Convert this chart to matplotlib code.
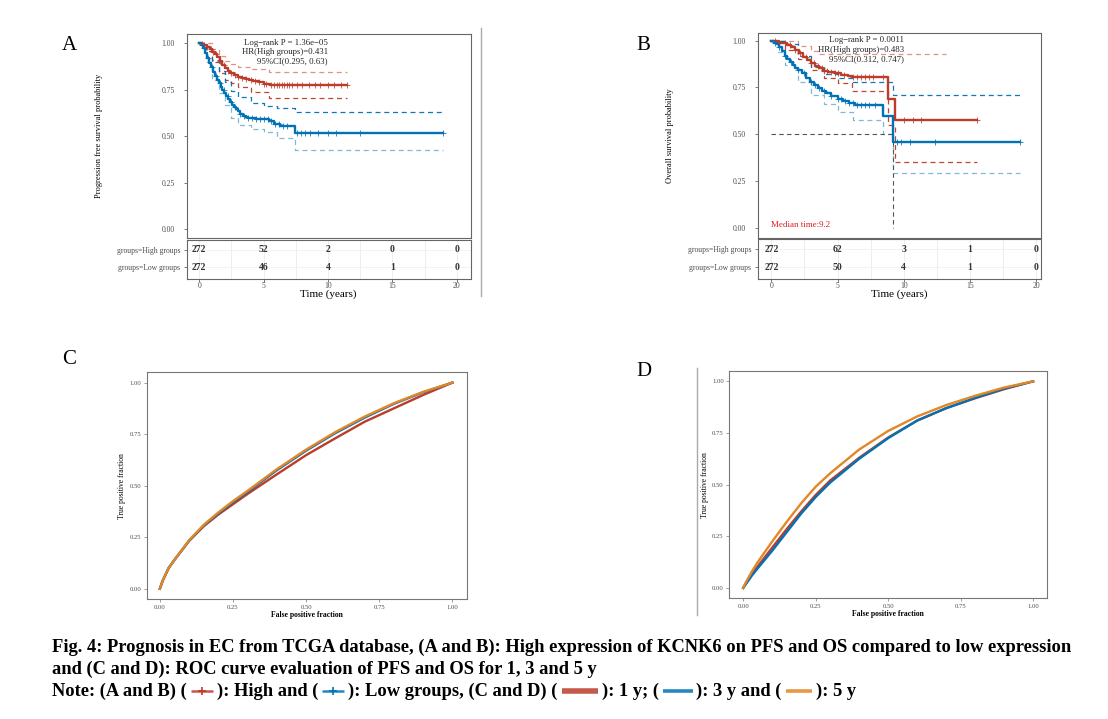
import numpy as np
import matplotlib
matplotlib.use("Agg")
import matplotlib.pyplot as plt

# ---------------- data ----------------
# Panel A (progression free survival)
A_high_t = [0, 0.2, 0.4, 0.6, 0.8, 1.0, 1.2, 1.4, 1.6, 1.8, 2.0, 2.2, 2.4, 2.7, 3.0, 3.3, 3.6,
            3.9, 4.2, 4.6, 5.0, 5.5, 11.45]
A_high_s = [1.0, 0.995, 0.99, 0.98, 0.97, 0.955, 0.94, 0.925, 0.905, 0.885, 0.865, 0.85, 0.838,
            0.83, 0.82, 0.813, 0.807, 0.80, 0.795, 0.789, 0.783, 0.776, 0.776]
A_low_t = [0, 0.15, 0.3, 0.45, 0.6, 0.75, 0.9, 1.05, 1.2, 1.35, 1.5, 1.65, 1.8, 1.95, 2.1, 2.25,
           2.4, 2.55, 2.7, 2.85, 3.0, 3.2, 3.4, 3.6, 3.8, 4.4, 5.0, 5.4, 5.8, 6.3, 7.45, 18.95]
A_low_s = [1.0, 0.99, 0.975, 0.95, 0.92, 0.895, 0.87, 0.845, 0.825, 0.80, 0.785, 0.765, 0.75,
           0.73, 0.715, 0.70, 0.685, 0.67, 0.655, 0.645, 0.635, 0.62, 0.61, 0.603, 0.598, 0.595,
           0.59, 0.58, 0.565, 0.553, 0.519, 0.519]
A_high_up_t = [0, 0.5, 1.0, 1.5, 2.0, 2.5, 3.0, 4.0, 5.4, 11.45]
A_high_up_s = [1.0, 1.0, 0.97, 0.93, 0.905, 0.89, 0.875, 0.86, 0.848, 0.848]
A_high_lo_t = [0, 0.5, 1.0, 1.5, 2.0, 2.5, 3.0, 4.0, 5.4, 11.45]
A_high_lo_s = [1.0, 0.96, 0.9, 0.84, 0.8, 0.785, 0.765, 0.74, 0.705, 0.705]
A_low_up_t = [0, 0.5, 1.0, 1.5, 2.0, 2.5, 3.0, 4.0, 5.0, 6.0, 7.45, 18.95]
A_low_up_s = [1.0, 0.98, 0.91, 0.85, 0.79, 0.745, 0.71, 0.68, 0.665, 0.65, 0.628, 0.628]
A_low_lo_t = [0, 0.5, 1.0, 1.5, 2.0, 2.5, 3.0, 4.0, 5.0, 6.0, 7.45, 18.95]
A_low_lo_s = [1.0, 0.9, 0.8, 0.73, 0.67, 0.6, 0.56, 0.54, 0.52, 0.49, 0.425, 0.425]
A_high_cens = [0.2, 0.4, 0.6, 0.9, 1.1, 1.3, 1.6, 1.9, 2.2, 2.5, 2.8, 3.0, 3.3, 3.6, 4.0, 4.3, 4.6,
               5.0, 5.2, 5.6, 5.8, 6.0, 6.2, 6.4, 6.6, 6.8, 7.0, 7.2, 7.6, 8.0, 8.5, 9.0, 9.4,
               10.0, 10.5, 11.0, 11.45]
A_low_cens = [0.2, 0.4, 0.7, 1.0, 1.3, 1.6, 1.9, 2.2, 2.5, 2.8, 3.2, 3.5, 3.8, 4.1, 4.4, 4.7,
              5.0, 5.3, 5.6, 5.9, 6.2, 6.5, 6.8, 7.6, 7.9, 8.2, 8.6, 9.2, 10.0, 10.6, 12.5, 18.95]
A_annot = ["Log\u2212rank P = 1.36e\u221205", "HR(High groups)=0.431", "95%CI(0.295, 0.63)"]
A_risk_high = [272, 52, 2, 0, 0]
A_risk_low = [272, 46, 4, 1, 0]

# Panel B (overall survival)
B_high_t = [0, 0.3, 0.6, 0.9, 1.2, 1.5, 1.8, 2.1, 2.4, 2.7, 3.0, 3.3, 3.6, 3.9, 4.3, 4.8, 5.3,
            5.8, 6.1, 8.84, 9.34, 15.5]
B_high_s = [1.0, 0.997, 0.99, 0.985, 0.975, 0.965, 0.952, 0.935, 0.915, 0.897, 0.88, 0.865,
            0.852, 0.84, 0.833, 0.826, 0.818, 0.812, 0.804, 0.688, 0.576, 0.576]
B_low_t = [0, 0.2, 0.4, 0.6, 0.8, 1.0, 1.2, 1.4, 1.6, 1.8, 2.0, 2.3, 2.6, 2.9, 3.2, 3.5, 3.8, 4.1,
           4.5, 5.0, 5.4, 5.9, 6.3, 8.46, 9.2, 18.8]
B_low_s = [1.0, 0.99, 0.98, 0.965, 0.945, 0.92, 0.90, 0.885, 0.87, 0.855, 0.845, 0.825, 0.80,
           0.78, 0.762, 0.748, 0.733, 0.72, 0.705, 0.69, 0.678, 0.668, 0.658, 0.597, 0.458, 0.458]
B_high_up_t = [0, 1.0, 2.0, 3.0, 3.5, 13.2]
B_high_up_s = [1.0, 1.0, 0.97, 0.945, 0.929, 0.929]
B_high_lo_t = [0, 1.0, 2.0, 3.0, 4.0, 5.0, 6.1, 8.84, 9.34, 15.5]
B_high_lo_s = [1.0, 0.95, 0.9, 0.845, 0.8, 0.775, 0.731, 0.55, 0.353, 0.353]
B_low_up_t = [0, 0.5, 1.0, 2.0, 3.0, 4.0, 5.0, 6.2, 9.2, 18.8]
B_low_up_s = [1.0, 1.0, 0.98, 0.92, 0.86, 0.82, 0.80, 0.78, 0.709, 0.709]
B_low_lo_t = [0, 0.5, 1.0, 2.0, 3.0, 4.0, 5.0, 6.2, 8.46, 9.2, 18.8]
B_low_lo_s = [1.0, 0.94, 0.87, 0.78, 0.71, 0.66, 0.62, 0.576, 0.5, 0.29, 0.29]
B_high_cens = [0.3, 0.6, 1.0, 1.4, 1.8, 2.2, 2.6, 3.0, 3.2, 3.5, 3.8, 4.0, 4.2, 4.5, 4.8, 5.0,
               5.5, 6.2, 6.5, 6.8, 7.1, 7.4, 7.7, 8.4, 10.0, 10.7, 11.3, 15.5]
B_low_cens = [0.3, 0.6, 1.0, 1.5, 2.0, 2.5, 3.0, 3.3, 3.6, 4.0, 4.5, 5.0, 5.3, 5.6, 5.9, 6.2,
              6.5, 6.8, 7.1, 7.4, 7.8, 9.5, 9.8, 10.5, 12.4, 18.8]
B_median = 9.2
B_annot = ["Log\u2212rank P = 0.0011", "HR(High groups)=0.483", "95%CI(0.312, 0.747)"]
B_risk_high = [272, 62, 3, 1, 0]
B_risk_low = [272, 50, 4, 1, 0]

risk_times = [0, 5, 10, 15, 20]
risk_groups = ["groups=High groups", "groups=Low groups"]

# ROC curves
roc_fpr = [0, 0.01, 0.03, 0.05, 0.1, 0.15, 0.2, 0.25, 0.3, 0.4, 0.5, 0.6, 0.7, 0.8, 0.9, 1.0]
C_1y = [0, 0.04, 0.1, 0.14, 0.232, 0.303, 0.36, 0.41, 0.46, 0.555, 0.648, 0.73, 0.81, 0.875, 0.94, 1.0]
C_3y = [0, 0.04, 0.1, 0.14, 0.233, 0.307, 0.366, 0.42, 0.47, 0.575, 0.67, 0.755, 0.83, 0.897, 0.953, 1.0]
C_5y = [0, 0.04, 0.1, 0.14, 0.235, 0.31, 0.37, 0.425, 0.475, 0.58, 0.675, 0.76, 0.835, 0.9, 0.955, 1.0]
D_1y = [0, 0.025, 0.07, 0.105, 0.195, 0.285, 0.37, 0.45, 0.52, 0.63, 0.728, 0.81, 0.87, 0.918, 0.962, 1.0]
D_3y = [0, 0.02, 0.06, 0.095, 0.18, 0.27, 0.36, 0.44, 0.51, 0.625, 0.725, 0.81, 0.87, 0.92, 0.965, 1.0]
D_5y = [0, 0.03, 0.08, 0.125, 0.225, 0.32, 0.41, 0.49, 0.555, 0.67, 0.76, 0.83, 0.885, 0.93, 0.97, 1.0]

caption1 = "Fig. 4: Prognosis in EC from TCGA database, (A and B): High expression of KCNK6 on PFS and OS compared to low expression"
caption2 = "and (C and D): ROC curve evaluation of PFS and OS for 1, 3 and 5 y"
caption3 = ["Note: (A and B) (", "): High and (", "): Low groups, (C and D) (", "): 1 y; (", "): 3 y and (", "): 5 y"]

# ---------------- style ----------------
RED = "#BC3C29"
BLUE = "#0072B5"
ORANGE = "#E18727"
SERIF = "Liberation Serif"
TICKC = "#4D4D4D"
W, H = 1108, 719

fig = plt.figure(figsize=(W / 100, H / 100), dpi=100)
fig.patch.set_facecolor("white")


def px_axes(l, t, r, b):
    return fig.add_axes([l / W, 1 - b / H, (r - l) / W, (b - t) / H])


def step_at(ts, ss, x):
    ts = np.asarray(ts)
    ss = np.asarray(ss)
    idx = np.searchsorted(ts, np.asarray(x), side="right") - 1
    return ss[np.clip(idx, 0, len(ss) - 1)]


def style_spines(ax, color="#666666", lw=0.8):
    for sp in ax.spines.values():
        sp.set_color(color)
        sp.set_linewidth(lw)


def km_panel(main_box, table_box, xlim, ylim, high, low, hi_ci, lo_ci, cens, annot,
             annot_x, ylabel, risk_hi, risk_lo):
    ax = px_axes(*main_box)
    ax.set_xlim(*xlim)
    ax.set_ylim(*ylim)
    style_spines(ax)
    (hu_t, hu_s), (hl_t, hl_s) = hi_ci
    (lu_t, lu_s), (ll_t, ll_s) = lo_ci
    ax.step(hu_t, hu_s, where="post", color=RED, lw=0.9, ls=(0, (4, 3)), alpha=0.55, zorder=3)
    ax.step(hl_t, hl_s, where="post", color=RED, lw=0.9, ls=(0, (4, 3)), alpha=0.95, zorder=3)
    ax.step(lu_t, lu_s, where="post", color=BLUE, lw=0.9, ls=(0, (4, 3)), alpha=0.95, zorder=3)
    ax.step(ll_t, ll_s, where="post", color=BLUE, lw=0.9, ls=(0, (4, 3)), alpha=0.5, zorder=3)
    ax.step(high[0], high[1], where="post", color=RED, lw=1.7, zorder=4)
    ax.step(low[0], low[1], where="post", color=BLUE, lw=1.7, zorder=4)
    ax.plot(cens[0], step_at(high[0], high[1], cens[0]), "+", color=RED, ms=4.5, mew=0.7,
            alpha=0.8, zorder=5)
    ax.plot(cens[1], step_at(low[0], low[1], cens[1]), "+", color=BLUE, ms=4.5, mew=0.7,
            alpha=0.8, zorder=5)
    ax.set_yticks([0, 0.25, 0.5, 0.75, 1.0])
    ax.set_yticklabels(["0.00", "0.25", "0.50", "0.75", "1.00"])
    ax.tick_params(axis="y", labelsize=5.5, colors="#666666", labelcolor=TICKC, length=2.5,
                   width=0.6, pad=6)
    for lab in ax.get_yticklabels():
        lab.set_family(SERIF)
    ax.set_xticks([])
    ax.set_ylabel(ylabel, family=SERIF, fontsize=6, labelpad=42)
    for i, s in enumerate(annot):
        ax.text(annot_x, 1.002 - i * 0.05, s, family=SERIF, fontsize=6.3, ha="right",
                va="center", color="#222222", zorder=2)
    tb = px_axes(*table_box)
    tb.set_xlim(*xlim)
    tb.set_ylim(1.675, -0.577)
    style_spines(tb)
    tb.set_xticks(risk_times)
    tb.set_xticks([2.5, 7.5, 12.5, 17.5], minor=True)
    tb.set_xticklabels([str(v) for v in risk_times])
    tb.tick_params(axis="x", which="major", labelsize=5.5, colors="#666666",
                   labelcolor=TICKC, length=2, width=0.6, pad=0.5)
    tb.tick_params(axis="x", which="minor", length=0)
    for lab in tb.get_xticklabels():
        lab.set_family(SERIF)
    tb.grid(True, which="both", axis="x", color="#F2E6E6", lw=0.6)
    tb.grid(True, axis="y", color="#F0F0F0", lw=0.6)
    tb.set_yticks([0, 1])
    tb.set_yticklabels(risk_groups)
    tb.tick_params(axis="y", labelsize=5.5, colors="#666666", labelcolor=TICKC, length=2.5,
                   width=0.6, pad=2)
    for lab in tb.get_yticklabels():
        lab.set_family(SERIF)
    for tt, v in zip(risk_times, risk_hi):
        tb.text(tt, 0, str(v), family=SERIF, fontsize=7, fontweight="bold", ha="center",
                va="center", color="#333333")
    for tt, v in zip(risk_times, risk_lo):
        tb.text(tt, 1, str(v), family=SERIF, fontsize=7, fontweight="bold", ha="center",
                va="center", color="#333333")
    tb.set_xlabel("Time (years)", family=SERIF, fontsize=8, labelpad=-1)
    return ax, tb


axA, tbA = km_panel((186.7, 34, 470.7, 238), (186.7, 240, 470.7, 279),
                    (-0.98, 21.09), (-0.048, 1.05),
                    (A_high_t, A_high_s), (A_low_t, A_low_s),
                    ((A_high_up_t, A_high_up_s), (A_high_lo_t, A_high_lo_s)),
                    ((A_low_up_t, A_low_up_s), (A_low_lo_t, A_low_lo_s)),
                    (A_high_cens, A_low_cens), A_annot, 10.0,
                    "Progression free survival probability", A_risk_high, A_risk_low)

axB, tbB = km_panel((757.7, 33, 1040.7, 238), (757.7, 239, 1040.7, 279),
                    (-1.03, 20.35), (-0.055, 1.041),
                    (B_high_t, B_high_s), (B_low_t, B_low_s),
                    ((B_high_up_t, B_high_up_s), (B_high_lo_t, B_high_lo_s)),
                    ((B_low_up_t, B_low_up_s), (B_low_lo_t, B_low_lo_s)),
                    (B_high_cens, B_low_cens), B_annot, 10.0,
                    "Overall survival probability", B_risk_high, B_risk_low)
axB.plot([0, B_median], [0.5, 0.5], color="#555555", lw=0.8, ls=(0, (4, 3)), zorder=3)
axB.plot([B_median, B_median], [0.5, 0], color="#555555", lw=0.8, ls=(0, (4, 3)), zorder=3)
axB.text(0, 0.012, "Median time:%.1f" % B_median, color="#E02020", family=SERIF, fontsize=6.5,
         ha="left", va="center")


def roc_panel(box, xlim, ylim, c1, c3, c5):
    ax = px_axes(*box)
    ax.set_xlim(*xlim)
    ax.set_ylim(*ylim)
    style_spines(ax, "#777777", 0.8)
    ax.plot(roc_fpr, c1, color=RED, lw=1.7, zorder=3)
    ax.plot(roc_fpr, c3, color=BLUE, lw=1.7, zorder=4)
    ax.plot(roc_fpr, c5, color=ORANGE, lw=1.7, zorder=5)
    ticks = [0, 0.25, 0.5, 0.75, 1.0]
    labs = ["0.00", "0.25", "0.50", "0.75", "1.00"]
    ax.set_xticks(ticks)
    ax.set_xticklabels(labs)
    ax.set_yticks(ticks)
    ax.set_yticklabels(labs)
    ax.tick_params(labelsize=4.8, colors="#777777", labelcolor=TICKC, length=2, width=0.5, pad=2)
    for lab in ax.get_xticklabels() + ax.get_yticklabels():
        lab.set_family(SERIF)
    ax.set_xlabel("False positive fraction", family=SERIF, fontsize=5.5, fontweight="bold",
                  labelpad=1)
    ax.set_ylabel("True positive fraction", family=SERIF, fontsize=5.5, labelpad=2.5)
    return ax


axC = roc_panel((146.7, 372.3, 467.3, 599), (-0.045, 1.051), (-0.05, 1.05), C_1y, C_3y, C_5y)
axD = roc_panel((729.3, 371, 1047.3, 598.3), (-0.048, 1.049), (-0.05, 1.05), D_1y, D_3y, D_5y)

for letter, x, y in [("A", 62, 46), ("B", 636, 46), ("C", 62, 360), ("D", 636, 371)]:
    fig.text(x / W, 1 - y / H, letter, family=SERIF, fontsize=15, ha="left", va="center")

fig.add_artist(plt.Line2D([481 / W, 481 / W], [1 - 28 / H, 1 - 296 / H], color="#AAAAAA", lw=1))
fig.add_artist(plt.Line2D([697 / W, 697 / W], [1 - 368 / H, 1 - 615 / H], color="#AAAAAA", lw=1))

# ---- caption ----
fig.canvas.draw()
renderer = fig.canvas.get_renderer()
fs0 = 12.0
t1 = fig.text(52 / W, 1 - 652 / H, caption1, family=SERIF, fontweight="bold", fontsize=fs0,
              va="baseline", ha="left")
w1 = t1.get_window_extent(renderer).width
fs = fs0 * 1014.0 / w1
t1.set_fontsize(fs)
fig.text(52 / W, 1 - 674 / H, caption2, family=SERIF, fontweight="bold", fontsize=fs,
         va="baseline", ha="left")

sym_specs = [
    dict(color=RED, w=22, lw=1.8, marker=True),
    dict(color=BLUE, w=22, lw=1.8, marker=True),
    dict(color=RED, w=36, lw=4.0, marker=False),
    dict(color=BLUE, w=30, lw=2.6, marker=False),
    dict(color=ORANGE, w=26, lw=2.6, marker=False),
]
x = 52.0
ybase = 696
ymid = 691
for i, seg in enumerate(caption3):
    t = fig.text(x / W, 1 - ybase / H, seg, family=SERIF, fontweight="bold", fontsize=fs,
                 va="baseline", ha="left")
    x = t.get_window_extent(renderer).x1
    if i < len(sym_specs):
        sp = sym_specs[i]
        x0 = x + 4
        x1 = x0 + sp["w"]
        fig.add_artist(plt.Line2D([x0 / W, x1 / W], [1 - ymid / H, 1 - ymid / H],
                                  color=sp["color"], lw=sp["lw"], alpha=0.85,
                                  solid_capstyle="butt"))
        if sp["marker"]:
            fig.add_artist(plt.Line2D([(x0 + x1) / 2 / W], [1 - ymid / H], color=sp["color"],
                                      marker="+", ms=6, mew=1.2, lw=0))
        x = x1 + 4

fig.savefig("out.png", dpi=100)
